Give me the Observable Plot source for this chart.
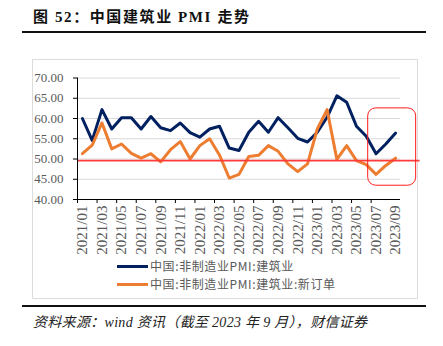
<!DOCTYPE html>
<html>
<head>
<meta charset="utf-8">
<script src="https://cdn.jsdelivr.net/npm/d3@7"></script>
<script src="https://cdn.jsdelivr.net/npm/@observablehq/plot@0.6"></script>
<style>
  html, body { margin: 0; padding: 0; background: #fff; }
  #page { position: relative; width: 443px; height: 346px; overflow: hidden; background: #fff; }
  .abs { position: absolute; }
  #title { left: 33px; top: 8px; font-family: "Liberation Serif", "Noto Sans CJK SC", serif; font-weight: 700; font-size: 15px; line-height: 18px; letter-spacing: 1.6px; color: #111; white-space: nowrap; }
  .hr { background: #111; height: 1.5px; left: 22px; width: 404px; }
  #frame { left: 32px; top: 59px; width: 384px; height: 238px; border: 1px solid #dcdcdc; }
  #chart { left: 0; top: 0; }
  .leg { font-family: "Noto Sans CJK SC", sans-serif; font-size: 12px; line-height: 14px; height: 14px; letter-spacing: 0.6px; color: #595959; white-space: nowrap; display: flex; align-items: center; left: 117px; }
  .sw { width: 31px; height: 3px; margin-right: 2px; }
  #caption { left: 33px; top: 314px; font-family: "Liberation Serif", "Noto Sans CJK SC", serif; font-style: italic; font-size: 14px; line-height: 17px; letter-spacing: 0.3px; color: #222; white-space: nowrap; }
</style>
</head>
<body>
<div id="page">
  <div id="title" class="abs">图 52：中国建筑业 PMI 走势</div>
  <div class="abs hr" style="top:31px"></div>
  <div id="frame" class="abs"></div>
  <div id="chart" class="abs"></div>
  <div class="abs leg" style="top:259px"><span class="sw" style="background:#002060"></span>中国:非制造业PMI:建筑业</div>
  <div class="abs leg" style="top:277px"><span class="sw" style="background:#ed7d31"></span>中国:非制造业PMI:建筑业:新订单</div>
  <div class="abs hr" style="top:305px"></div>
  <div id="caption" class="abs">资料来源：wind 资讯（截至 2023 年 9 月），财信证券</div>
</div>
<script>
const months = [
  "2021/01","2021/02","2021/03","2021/04","2021/05","2021/06","2021/07","2021/08","2021/09","2021/10","2021/11","2021/12",
  "2022/01","2022/02","2022/03","2022/04","2022/05","2022/06","2022/07","2022/08","2022/09","2022/10","2022/11","2022/12",
  "2023/01","2023/02","2023/03","2023/04","2023/05","2023/06","2023/07","2023/08","2023/09"
];
const construction = [60.0,54.6,62.2,57.4,60.2,60.2,57.4,60.5,57.7,57.0,58.9,56.5,
  55.4,57.4,58.1,52.7,52.1,56.6,59.3,56.6,60.2,57.7,55.1,54.2,
  56.6,60.3,65.6,64.0,58.1,55.6,51.3,53.7,56.4];
const newOrders = [51.3,53.4,58.9,52.5,53.7,51.4,50.2,51.3,49.3,52.3,54.3,50.0,
  53.3,55.0,51.0,45.3,46.2,50.6,50.9,53.3,51.9,48.8,46.9,48.8,
  57.4,62.2,49.9,53.3,49.6,48.6,46.2,48.4,50.2];
const yTicks = [40,45,50,55,60,65,70];
const threshold = [49.6];
// highlighted window (month index range and value range)
const highlight = [{x1: 29.2, x2: 34.1, y1: 43.4, y2: 62.5}];

const idx = months.map((_, i) => i);
const labelIdx = idx.filter(i => i % 2 === 0);
const boundaryTicks = idx.filter(i => i % 2 === 0 && i < 32).map(i => i - 0.5);
const s1 = idx.map(i => ({i, v: construction[i]}));
const s2 = idx.map(i => ({i, v: newOrders[i]}));

const chart = Plot.plot({
  width: 443,
  height: 265,
  marginLeft: 77,
  marginRight: 43,
  marginTop: 77.5,
  marginBottom: 66,
  x: {type: "linear", domain: [-0.5, 32.5]},
  y: {domain: [40, 70]},
  style: {background: "transparent", overflow: "visible"},
  marks: [
    Plot.ruleY(yTicks.filter(v => v > 40), {x1: -0.5, x2: 32.5, stroke: "#d9d9d9", strokeWidth: 1}),
    Plot.line(s1, {x: "i", y: "v", stroke: "#002060", strokeWidth: 3, strokeLinejoin: "round"}),
    Plot.line(s2, {x: "i", y: "v", stroke: "#ed7d31", strokeWidth: 3, strokeLinejoin: "round"}),
    Plot.ruleY(threshold, {x1: -0.5, x2: 34.5, stroke: "#ff3b3b", strokeWidth: 1.8}),
    Plot.rect(highlight, {x1: "x1", x2: "x2", y1: "y1", y2: "y2", rx: 8, fill: "none", stroke: "#ff1a1a", strokeWidth: 1, clip: false}),
    Plot.ruleX([-0.5], {y1: 40, y2: 70, stroke: "#000", strokeWidth: 1}),
    Plot.ruleY([40], {x1: -0.5, x2: 32.5, stroke: "#000", strokeWidth: 1}),
    Plot.axisY({ticks: yTicks, tickFormat: d => d.toFixed(2), tickSize: 4, tickPadding: 10,
      fontSize: 13, fontFamily: "Liberation Serif, serif", fill: "#595959", stroke: "#000", label: null}),
    Plot.axisX({ticks: boundaryTicks, tickFormat: () => "", tickSize: 4, stroke: "#000", label: null}),
    Plot.axisX({ticks: labelIdx, tickFormat: i => months[i], tickSize: 0, tickPadding: 6, tickRotate: -90,
      fontSize: 15, fontFamily: "Liberation Serif, serif", fill: "#595959", label: null})
  ]
});
document.getElementById("chart").appendChild(chart);
</script>
</body>
</html>
